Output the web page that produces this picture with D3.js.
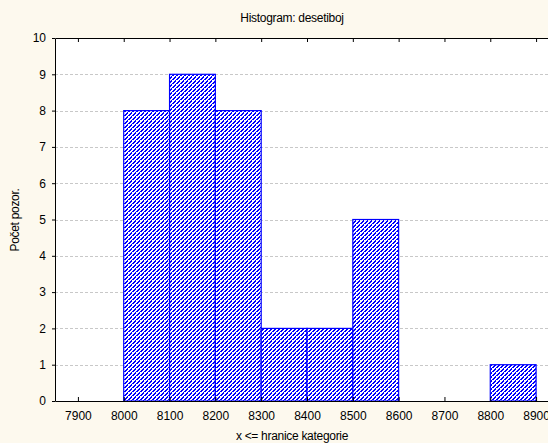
<!DOCTYPE html>
<html>
<head>
<meta charset="utf-8">
<script src="https://cdn.jsdelivr.net/npm/d3@7"></script>
<style>
  body { margin: 0; background: #fdf9ee; overflow: hidden; }
  text { font-family: "Liberation Sans", Arial, sans-serif; }
</style>
</head>
<body>
<script>
const binStarts = [8000, 8100, 8200, 8300, 8400, 8500, 8600, 8700, 8800]
const counts = [8, 9, 8, 2, 2, 5, 0, 0, 1]
const binWidth = 100
const xTicks = [7900, 8000, 8100, 8200, 8300, 8400, 8500, 8600, 8700, 8800, 8900]
const yTicks = [0, 1, 2, 3, 4, 5, 6, 7, 8, 9, 10]

const width = 548
const height = 443

const x = d3.scaleLinear()
    .domain([7850, 8950])
    .range([55, 559])

const y = d3.scaleLinear()
    .domain([0, 10])
    .range([401, 38])

const svg = d3.select('body')
    .append('svg')
    .attr('width', width)
    .attr('height', height)

// hatch fill, drawn as pixel stairs like the original
const defs = svg.append('defs')
const pat = defs.append('pattern')
    .attr('id', 'hatch')
    .attr('patternUnits', 'userSpaceOnUse')
    .attr('width', 4)
    .attr('height', 4)
pat.append('rect').attr('width', 4).attr('height', 4).attr('fill', '#fff')
const stairs = [[3, 0], [2, 1], [1, 2], [0, 3]]
pat.selectAll('rect.px')
    .data(stairs)
    .enter()
    .append('rect')
    .attr('class', 'px')
    .attr('x', d => d[0])
    .attr('y', d => d[1])
    .attr('width', 2)
    .attr('height', 1)
    .attr('fill', '#0000ff')
pat.append('rect').attr('x', 0).attr('y', 3).attr('width', 1).attr('height', 1).attr('fill', '#0000ff')
pat.append('rect').attr('x', 3).attr('y', 0).attr('width', 1).attr('height', 1).attr('fill', '#0000ff')

// plot area
svg.append('rect')
    .attr('x', x(7850))
    .attr('y', y(10))
    .attr('width', width - x(7850) + 10)
    .attr('height', y(0) - y(10))
    .attr('fill', '#fff')

// gridlines
svg.append('g')
    .selectAll('line')
    .data(yTicks.filter(d => d > 0 && d < 10))
    .enter()
    .append('line')
    .attr('x1', x(7850))
    .attr('x2', width)
    .attr('y1', d => Math.round(y(d)) + 0.5)
    .attr('y2', d => Math.round(y(d)) + 0.5)
    .attr('stroke', '#c8c8c8')
    .attr('stroke-dasharray', '3,2')

// bars
const data = binStarts.map((s, i) => ({start: s, count: counts[i]})).filter(d => d.count > 0)
svg.append('g')
    .selectAll('rect')
    .data(data)
    .enter()
    .append('rect')
    .attr('x', d => x(d.start))
    .attr('y', d => y(d.count))
    .attr('width', d => x(d.start + binWidth) - x(d.start))
    .attr('height', d => y(0) - y(d.count))
    .attr('fill', 'url(#hatch)')
    .attr('stroke', '#0000ff')
    .attr('stroke-width', 1.2)

// axes
const xAxisB = d3.axisBottom(x).tickValues(xTicks).tickFormat(d3.format('d'))
    .tickSizeInner(-4).tickSizeOuter(0).tickPadding(10)
svg.append('g')
    .attr('transform', `translate(0,${y(0)})`)
    .call(xAxisB)
    .call(g => g.selectAll('text').attr('font-size', 12).attr('fill', '#000'))

const xAxisT = d3.axisTop(x).tickValues(xTicks).tickSizeInner(-4).tickSizeOuter(0).tickFormat('')
svg.append('g')
    .attr('transform', `translate(0,${y(10)})`)
    .call(xAxisT)

const yAxis = d3.axisLeft(y).tickValues(yTicks).tickSizeInner(3).tickSizeOuter(0).tickPadding(6)
svg.append('g')
    .attr('transform', `translate(${x(7850)},0)`)
    .call(yAxis)
    .call(g => g.selectAll('text').attr('font-size', 12).attr('fill', '#000'))

svg.selectAll('.domain, .tick line').attr('stroke', '#000')

// titles
svg.append('text')
    .attr('x', 292)
    .attr('y', 22)
    .attr('text-anchor', 'middle')
    .attr('font-size', 12)
    .attr('letter-spacing', -0.3)
    .text('Histogram: desetiboj')

svg.append('text')
    .attr('x', 292)
    .attr('y', 440)
    .attr('text-anchor', 'middle')
    .attr('font-size', 12)
    .attr('letter-spacing', -0.3)
    .text('x <= hranice kategorie')

svg.append('text')
    .attr('transform', 'translate(19,220) rotate(-90)')
    .attr('text-anchor', 'middle')
    .attr('font-size', 12)
    .attr('letter-spacing', -0.3)
    .text('Počet pozor.')
</script>
</body>
</html>
